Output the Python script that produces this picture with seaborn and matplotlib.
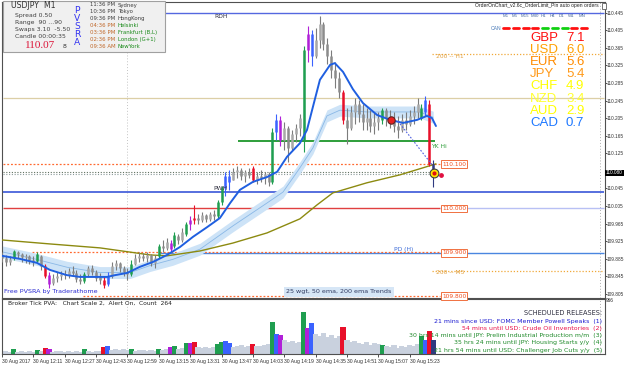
import matplotlib
matplotlib.use("Agg")
import matplotlib.pyplot as plt
import matplotlib.patches as mpatches
from matplotlib.lines import Line2D
import numpy as np
import seaborn as sns

# ------------------------------------------------------------------ data
bar_open = [109.894, 109.887, 109.878, 109.887, 109.901, 109.896, 109.889, 109.892, 109.882, 109.880,
            109.892, 109.869, 109.848, 109.830, 109.842, 109.846, 109.851, 109.848, 109.857, 109.853,
            109.839, 109.835, 109.851, 109.864, 109.855, 109.844, 109.837, 109.828, 109.846, 109.869,
            109.876, 109.864, 109.855, 109.851, 109.873, 109.887, 109.892, 109.887, 109.894, 109.876,
            109.892, 109.914, 109.910, 109.921, 109.914, 109.937, 109.928, 109.942, 109.964, 109.973,
            109.978, 109.973, 109.985, 109.976, 109.987, 109.983, 110.014, 110.046, 110.073, 110.064,
            110.082, 110.087, 110.073, 110.082, 110.092, 110.064, 110.073, 110.069, 110.078, 110.060,
            110.173, 110.201, 110.155, 110.182, 110.137, 110.169, 110.182, 110.155, 110.360, 110.396,
            110.346, 110.382, 110.419, 110.373, 110.346, 110.314, 110.296, 110.264, 110.201, 110.182,
            110.219, 110.237, 110.214, 110.196, 110.205, 110.187, 110.196, 110.201, 110.223, 110.205,
            110.201, 110.187, 110.178, 110.201, 110.192, 110.210, 110.219, 110.205, 110.219, 110.237,
            110.101]
bar_high = [109.901, 109.894, 109.892, 109.905, 109.903, 109.898, 109.896, 109.894, 109.892, 109.901,
            109.894, 109.873, 109.855, 109.851, 109.855, 109.857, 109.860, 109.864, 109.869, 109.860,
            109.851, 109.855, 109.869, 109.871, 109.860, 109.853, 109.846, 109.855, 109.878, 109.882,
            109.878, 109.869, 109.864, 109.882, 109.896, 109.901, 109.898, 109.901, 109.896, 109.894,
            109.919, 109.928, 109.933, 109.928, 109.946, 109.942, 109.955, 109.969, 109.983, 110.008,
            109.987, 109.992, 109.987, 109.992, 109.996, 110.019, 110.051, 110.082, 110.087, 110.092,
            110.096, 110.092, 110.087, 110.092, 110.096, 110.082, 110.087, 110.082, 110.082, 110.182,
            110.214, 110.210, 110.196, 110.187, 110.178, 110.192, 110.214, 110.369, 110.414, 110.405,
            110.410, 110.437, 110.423, 110.387, 110.360, 110.332, 110.310, 110.269, 110.228, 110.232,
            110.251, 110.246, 110.237, 110.228, 110.223, 110.219, 110.219, 110.228, 110.228, 110.223,
            110.219, 110.210, 110.214, 110.219, 110.223, 110.232, 110.251, 110.237, 110.255, 110.246,
            110.110]
bar_low = [109.878, 109.869, 109.871, 109.882, 109.887, 109.878, 109.876, 109.873, 109.869, 109.878,
           109.860, 109.842, 109.819, 109.826, 109.832, 109.837, 109.839, 109.842, 109.846, 109.832,
           109.828, 109.830, 109.846, 109.848, 109.835, 109.828, 109.819, 109.823, 109.842, 109.860,
           109.855, 109.846, 109.837, 109.846, 109.871, 109.878, 109.880, 109.878, 109.869, 109.864,
           109.887, 109.901, 109.905, 109.901, 109.910, 109.919, 109.923, 109.937, 109.951, 109.964,
           109.964, 109.969, 109.969, 109.971, 109.973, 109.978, 110.008, 110.028, 110.042, 110.064,
           110.069, 110.064, 110.060, 110.069, 110.060, 110.055, 110.060, 110.055, 110.051, 110.055,
           110.155, 110.142, 110.133, 110.105, 110.133, 110.151, 110.164, 110.128, 110.332, 110.323,
           110.342, 110.364, 110.360, 110.328, 110.296, 110.273, 110.251, 110.192, 110.146, 110.178,
           110.192, 110.196, 110.178, 110.178, 110.173, 110.169, 110.178, 110.192, 110.187, 110.182,
           110.173, 110.160, 110.173, 110.178, 110.187, 110.192, 110.205, 110.201, 110.210, 110.096,
           110.048]
bar_close = [109.887, 109.878, 109.885, 109.903, 109.896, 109.889, 109.892, 109.882, 109.878, 109.896,
             109.869, 109.846, 109.828, 109.842, 109.846, 109.851, 109.848, 109.857, 109.853, 109.839,
             109.835, 109.851, 109.864, 109.855, 109.842, 109.837, 109.826, 109.846, 109.869, 109.876,
             109.864, 109.855, 109.851, 109.873, 109.887, 109.892, 109.887, 109.894, 109.876, 109.887,
             109.914, 109.910, 109.923, 109.907, 109.939, 109.928, 109.946, 109.964, 109.973, 109.978,
             109.973, 109.985, 109.976, 109.987, 109.983, 110.014, 110.046, 110.073, 110.060, 110.082,
             110.087, 110.073, 110.082, 110.076, 110.064, 110.073, 110.069, 110.078, 110.060, 110.173,
             110.201, 110.155, 110.182, 110.137, 110.169, 110.182, 110.205, 110.360, 110.396, 110.346,
             110.382, 110.419, 110.373, 110.346, 110.314, 110.296, 110.264, 110.201, 110.182, 110.219,
             110.237, 110.214, 110.196, 110.205, 110.187, 110.196, 110.205, 110.223, 110.205, 110.201,
             110.187, 110.178, 110.201, 110.192, 110.210, 110.219, 110.237, 110.228, 110.246, 110.101,
             110.080]
volume = [2, 3, 2, 5, 2, 3, 2, 3, 2, 4,
          3, 6, 5, 2, 3, 3, 2, 3, 2, 3,
          2, 5, 3, 2, 3, 3, 7, 8, 4, 5,
          4, 5, 4, 5, 3, 4, 4, 3, 4, 3,
          5, 4, 5, 7, 8, 5, 6, 11, 11, 12,
          7, 6, 7, 6, 7, 10, 12, 13, 11, 7,
          8, 9, 7, 8, 10, 8, 8, 9, 10, 32,
          20, 19, 14, 12, 13, 11, 12, 42, 26, 31,
          20, 18, 21, 17, 19, 16, 18, 27, 14, 12,
          13, 11, 10, 12, 9, 11, 10, 9, 8, 7,
          9, 6, 8, 7, 9, 8, 10, 18, 14, 23,
          14]
pvsra_idx = [3, 9, 11, 12, 21, 26, 27, 33, 40, 43, 44, 47, 48, 49, 55, 56, 57, 58,
             64, 69, 70, 71, 77, 78, 79, 87, 97, 107, 108, 109, 110]
pvsra_code = ['g', 'g', 'r', 'm', 'g', 'r', 'b', 'g', 'g', 'm', 'g', 'g', 'm', 'r', 'g', 'g', 'b', 'b',
              'r', 'g', 'b', 'm', 'g', 'm', 'b', 'r', 'g', 'g', 'b', 'r', 'n']

ema25_bar = [0, 4.6, 8.9, 12.2, 16.6, 19.9, 23.2, 26.8, 28.8, 31.9, 35.2, 38.5, 42.1, 45.4, 48.7,
             52.3, 55.6, 58.2, 60.7, 64.0, 67.6, 70.2, 72.7, 76.0, 77.8, 79.3, 81.1, 83.7, 84.9,
             87.0, 89.5, 92.1, 95.7, 99.0, 102.3, 105.9, 108.4, 109.7, 110.7]
ema25_val = [109.892, 109.885, 109.876, 109.860, 109.848, 109.844, 109.844, 109.844, 109.848, 109.853,
             109.867, 109.878, 109.894, 109.912, 109.935, 109.957, 109.978, 110.012, 110.042, 110.060,
             110.071, 110.083, 110.117, 110.148, 110.178, 110.230, 110.292, 110.326, 110.330, 110.310,
             110.271, 110.239, 110.212, 110.201, 110.194, 110.201, 110.210, 110.205, 110.187]
ema50_bar = [0, 7.9, 16.6, 25.0, 32.7, 37.8, 43.6, 50.5, 58.9, 67.6, 71.7, 76.0, 79.3, 82.9, 86.2,
             93.1, 101.5, 106.6, 110.0]
ema50_val = [109.901, 109.886, 109.866, 109.854, 109.854, 109.870, 109.884, 109.907, 109.960, 110.012,
             110.037, 110.092, 110.137, 110.210, 110.223, 110.219, 110.219, 110.219, 110.207]
ema200_bar = [0, 12.2, 25.0, 37.8, 42.1, 50.5, 58.9, 67.6, 76.0, 80.4, 84.4, 93.1, 101.5, 110.7]
ema200_val = [109.928, 109.919, 109.910, 109.894, 109.892, 109.903, 109.921, 109.944, 109.976, 110.008,
              110.035, 110.058, 110.076, 110.101]

time_tick_bars = [0, 8, 16, 24, 32, 40, 48, 56, 64, 72, 80, 88, 96, 104]
time_labels = ["30 Aug 2017", "30 Aug 12:11", "30 Aug 12:27", "30 Aug 12:43", "30 Aug 12:59",
               "30 Aug 13:15", "30 Aug 13:31", "30 Aug 13:47", "30 Aug 14:03", "30 Aug 14:19",
               "30 Aug 14:35", "30 Aug 14:51", "30 Aug 15:07", "30 Aug 15:23"]
price_ticks = [110.445, 110.405, 110.365, 110.325, 110.285, 110.245, 110.205, 110.165, 110.125,
               110.085, 110.045, 110.005, 109.965, 109.925, 109.885, 109.845, 109.805]

level_rdh = 110.444
level_h1_200 = 110.351
level_tan = 110.251
level_ykhi = 110.153
order_levels = [110.100, 110.000, 109.900, 109.800]
bid_ask = [110.082, 110.078]
level_pwh = 110.038
level_pdh = 109.898
level_m5_200 = 109.857
current_price = 110.080

currencies = ["GBP", "USD", "EUR", "JPY", "CHF", "NZD", "AUD", "CAD"]
strength = [7.1, 6.0, 5.6, 5.4, 4.9, 3.4, 2.9, 0.7]
timeframes = ["M1", "M5", "M15", "M30", "H1", "H4", "D1", "W1", "MN"]
tf_trend = ["dn", "dn", "dn", "dn", "up", "up", "up", "dn", "dn"]

sessions_time = ["11:36 PM", "10:36 PM", "09:36 PM", "04:36 PM", "03:36 PM", "02:36 PM", "09:36 AM"]
sessions_city = ["Sydney", "Tokyo", "HongKong", "Helsinki", "Frankfurt (B,L)", "London (G+1)", "NewYork"]

releases = ["21 mins since USD: FOMC Member Powell Speaks  (1)",
            "54 mins until USD: Crude Oil Inventories  (2)",
            "30 hrs 14 mins until JPY: Prelim Industrial Production m/m  (3)",
            "35 hrs 24 mins until JPY: Housing Starts y/y  (4)",
            "21 hrs 54 mins until USD: Challenger Job Cuts y/y  (5)"]

# ------------------------------------------------------------------ style
sns.set_theme(style="white")
plt.rcParams['font.family'] = ['DejaVu Sans']
SMALL = 'Liberation Sans'

W, H = 625, 366
fig = plt.figure(figsize=(W / 100, H / 100), dpi=100)
fig.patch.set_facecolor('white')


def fx(x):
    return x / W


def fy(y):
    return 1 - y / H


def px2bar(x):
    return (x - 2) / 3.92


X0, X1 = 2, 604.5
ax = fig.add_axes([fx(X0), fy(298), (X1 - X0) / W, 296 / H])
axv = fig.add_axes([fx(X0), fy(354), (X1 - X0) / W, 55 / H])
for a in (ax, axv):
    a.set_facecolor('white')
    a.set_xlim(px2bar(X0), px2bar(X1))
    for s in a.spines.values():
        s.set_color('#505050')
        s.set_linewidth(0.8)
ax.set_ylim(109.7961, 110.4689)
axv.set_ylim(0, 55)

idx = np.arange(len(bar_close))
colmap = {'g': '#1f9e50', 'r': '#e8102a', 'b': '#3a62ff', 'm': '#b020d8', 'n': '#303a80'}
special = dict(zip(pvsra_idx, pvsra_code))
wick_cols, body_cols, vol_cols = [], [], []
for i in idx:
    if i in special:
        c = colmap[special[i]]
        wick_cols.append(c)
        body_cols.append(c)
        vol_cols.append(c)
    else:
        wick_cols.append('#7c7c7c')
        body_cols.append('#a8a8a8' if bar_close[i] >= bar_open[i] else '#8c8c8c')
        vol_cols.append('#c9d1de')

# horizontal levels
ax.hlines(level_rdh, px2bar(3), px2bar(604), color='#5468e0', lw=1.0, zorder=1)
ax.hlines(level_h1_200, px2bar(432), px2bar(604), color='#f0a838', lw=0.9, ls=(0, (1, 1.5)), zorder=1)
ax.hlines(level_tan, px2bar(3), px2bar(604), color='#dccfa6', lw=0.9, zorder=1)
ax.hlines(level_ykhi, px2bar(238), px2bar(435), color='#2e9e3a', lw=1.4, zorder=1)
ax.hlines(order_levels[0], px2bar(3), px2bar(440), color='#ff6a30', lw=0.9, ls=(0, (1.5, 1.5)), zorder=1)
ax.hlines(bid_ask[0], px2bar(3), px2bar(436), color='#607060', lw=0.8, ls=(0, (1, 1.5)), zorder=1)
ax.hlines(bid_ask[1], px2bar(3), px2bar(436), color='#8a9a9a', lw=0.8, ls=(0, (1, 1.5)), zorder=1)
ax.hlines(level_pwh, px2bar(3), px2bar(604), color='#3a56d8', lw=1.2, zorder=1)
ax.hlines(order_levels[1], px2bar(3), px2bar(440), color='#e04040', lw=1.0, zorder=1)
ax.hlines(order_levels[1], px2bar(440), px2bar(604), color='#b8c0f4', lw=1.0, zorder=1)
ax.hlines(level_pdh, px2bar(160), px2bar(604), color='#4a86e0', lw=1.0, zorder=1)
ax.hlines(order_levels[2], px2bar(32), px2bar(440), color='#ff6a30', lw=0.9, ls=(0, (1.5, 1.5)), zorder=1)
ax.hlines(level_m5_200, px2bar(432), px2bar(604), color='#f0a838', lw=0.9, ls=(0, (1, 1.5)), zorder=1)
ax.hlines(order_levels[3], px2bar(83), px2bar(440), color='#ff6a30', lw=0.9, ls=(0, (1.5, 1.5)), zorder=1)

# separators
for a in (ax, axv):
    a.axvline(32, color='#c4c4c4', lw=0.7, ls=(0, (1, 2)), zorder=0.5)
    a.axvline(px2bar(600), color='#b0b0b0', lw=0.7, ls=(0, (1, 2)), zorder=0.5)

# 50 ema band
e50 = np.array(ema50_val)
ax.fill_between(ema50_bar, e50 - 0.0135, e50 + 0.0135, color='#cde3f7', lw=0, zorder=2)
sns.lineplot(x=ema50_bar, y=ema50_val, ax=ax, color='#8ab8e6', lw=0.6, zorder=2.5)
# 200 ema
sns.lineplot(x=ema200_bar, y=ema200_val, ax=ax, color='#8c8a10', lw=1.0, zorder=2.6)

# candles
ax.vlines(idx, bar_low, bar_high, colors=wick_cols, lw=0.8, zorder=4)
ax.vlines(idx, np.minimum(bar_open, bar_close), np.maximum(bar_open, bar_close),
          colors=body_cols, lw=1.8, zorder=4)

# 25 weighted ma
sns.lineplot(x=ema25_bar, y=ema25_val, ax=ax, color='#1f5fe0', lw=1.4, zorder=5)

# trend line & markers
ax.plot([px2bar(398), px2bar(433)], [110.198, 110.096], color='#5060e0', lw=0.8, ls=(0, (1.5, 1.5)), zorder=5)
ax.scatter([px2bar(391)], [110.201], s=28, color='#e82020', edgecolor='#602020', lw=0.8, zorder=6)
ax.scatter([px2bar(434)], [current_price], s=40, color='#ffe600', edgecolor='#404040', lw=0.8, zorder=6)
ax.scatter([px2bar(434)], [current_price], s=4, color='#e01010', zorder=7)
ax.scatter([px2bar(441)], [110.076], s=6, color='#e01040', zorder=6)

# price axis (label hidden behind the current-price box is left blank)
ax.yaxis.tick_right()
ax.set_yticks(price_ticks)
ax.set_yticklabels(["" if abs(v - current_price) < 0.006 else f"{v:.3f}" for v in price_ticks])
ax.tick_params(axis='y', right=True, left=False, length=1.2, width=0.6, labelsize=3.4, pad=0.6,
               colors='#303030')
for lab in ax.get_yticklabels():
    lab.set_family(SMALL)
ax.tick_params(axis='x', bottom=False, labelbottom=False)
ax.set_xticks([])

# volume
axv.bar(idx, volume, width=1.3, color=vol_cols, linewidth=0, zorder=2)
axv.set_yticks([])
axv.set_xticks(time_tick_bars)
axv.set_xticklabels(time_labels)
axv.tick_params(axis='x', bottom=True, length=2, width=0.6, labelsize=3.6, pad=1.5, colors='#303030')
for lab in axv.get_xticklabels():
    lab.set_ha('left')
    lab.set_family(SMALL)

# ------------------------------------------------------------------ texts
def T(x, y, s, **kw):
    kw.setdefault('fontsize', 4.3)
    kw.setdefault('va', 'center')
    kw.setdefault('color', '#303040')
    return fig.text(fx(x), fy(y), s, **kw)


T(214, 16, "RDH")
T(213, 188, "PWH")
T(431, 146, "YK Hi", color='#2e9e3a')
T(394, 250, "PD (H)", color='#3a6ad8')
T(436, 57, "200 -- H1", color='#e0a040')
T(436, 273, "200 -- M5", color='#e0a040')
T(4, 292, "Free PVSRA by Traderathome", color='#2a2ad0', fontsize=4.6)
T(339, 292, "25 wgt, 50 ema, 200 ema Trends", ha='center', color='#303a60', fontsize=4.6,
  bbox=dict(boxstyle='square,pad=0.35', fc='#d6e6f6', ec='none'))
for lv, y in zip(order_levels, [164, 208.3, 253, 296]):
    T(442, y, f"{lv:.3f}", color='#f05020', fontsize=4.2,
      bbox=dict(boxstyle='square,pad=0.2', fc='white', ec='#f07040', lw=0.7))
T(606, 173, f"{current_price:.3f}", color='white', fontsize=3.4, family=SMALL,
  bbox=dict(boxstyle='square,pad=0.2', fc='black', ec='none'))

# currency strength
str_cols = ['#ff1010', '#ffa000', '#ff8c00', '#ff9a1a', '#ffff00', '#ffff30', '#ffff00', '#1e78ff']
for k, (cname, val) in enumerate(zip(currencies, strength)):
    y = 38 + 12.1 * k
    T(530, y, cname, color=str_cols[k], fontsize=9.5, family=SMALL)
    T(566, y, f"{val:.1f}", color=str_cols[k], fontsize=9.5, family=SMALL)

# top right order tool
T(599, 6, "OrderOnChart_v2.6c_OrderLimit_Pin auto open orders", ha='right', fontsize=3.6,
  color='#202020', family=SMALL)
fig.add_artist(mpatches.Rectangle((fx(601.5), fy(9)), 4 / W, 6 / H, transform=fig.transFigure,
                                  fc='white', ec='#606060', lw=0.6, zorder=10))
tf_centers = [506, 515, 525, 534.5, 543, 552, 561.5, 571, 582.5]
for c, tf in zip(tf_centers, timeframes):
    T(c, 16, tf, ha='center', fontsize=3.2, color='#4a6a9a', family=SMALL)
T(501, 28, "CAN", ha='right', fontsize=3.6, color='#4a7ab8', family=SMALL)
for k, tr in enumerate(tf_trend):
    x0 = 503 + 9.75 * k
    fig.add_artist(Line2D([fx(x0), fx(x0 + 6)], [fy(28), fy(28)], color='#ff1010' if tr == 'dn' else '#10d010',
                          lw=2.0, transform=fig.transFigure, zorder=10))

# info box
fig.add_artist(mpatches.Rectangle((fx(3), fy(52)), 162 / W, 51 / H, transform=fig.transFigure,
                                  fc='#f0f0f0', ec='#a0a0a0', lw=0.8, zorder=9))
T(11, 6, "USDJPY  M1", fontsize=5.6, color='#303030', zorder=11)
for k, s in enumerate(["Spread 0.50", "Range  90 ...90", "Swaps 3.10  -5.50", "Candle 00:00:35"]):
    T(15, 15.5 + 6.9 * k, s, fontsize=4.4, color='#404040', zorder=11)
T(25, 45, "110.07", fontsize=8, color='#dc1438', family='Liberation Serif', zorder=11)
T(63, 46, "8", fontsize=4.4, color='#303030', zorder=11)
for k, ch in enumerate("PVSRA"):
    T(77, 10.5 + 8.1 * k, ch, ha='center', fontsize=6.6, color='#3434f0', zorder=11)
for k, (tm, city) in enumerate(zip(sessions_time, sessions_city)):
    y = 5 + 6.85 * k
    T(90, y, tm, fontsize=3.9, color='#404040' if k < 3 else '#c0682a', zorder=11)
    T(118, y, city, fontsize=3.9, color='#404040' if k < 3 else '#1a8a1a', zorder=11)

# volume panel texts
T(8, 303, "Broker Tick PVA:   Chart Scale 2,  Alert On,  Count  264", fontsize=4.3, color='#202020')
T(606, 301, "966", fontsize=3.4, color='#202020', family=SMALL)
T(602, 313, "SCHEDULED RELEASES:", ha='right', fontsize=4.8, color='#303040')
rel_cols = ['#1a1ad0', '#e8104a', '#1f8a2a', '#1f8a2a', '#1f8a2a']
for k, (s, c) in enumerate(zip(releases, rel_cols)):
    T(602, 321 + 7.3 * k, s, ha='right', fontsize=4.5, color=c)

fig.savefig("out.png", dpi=100, facecolor='white')
